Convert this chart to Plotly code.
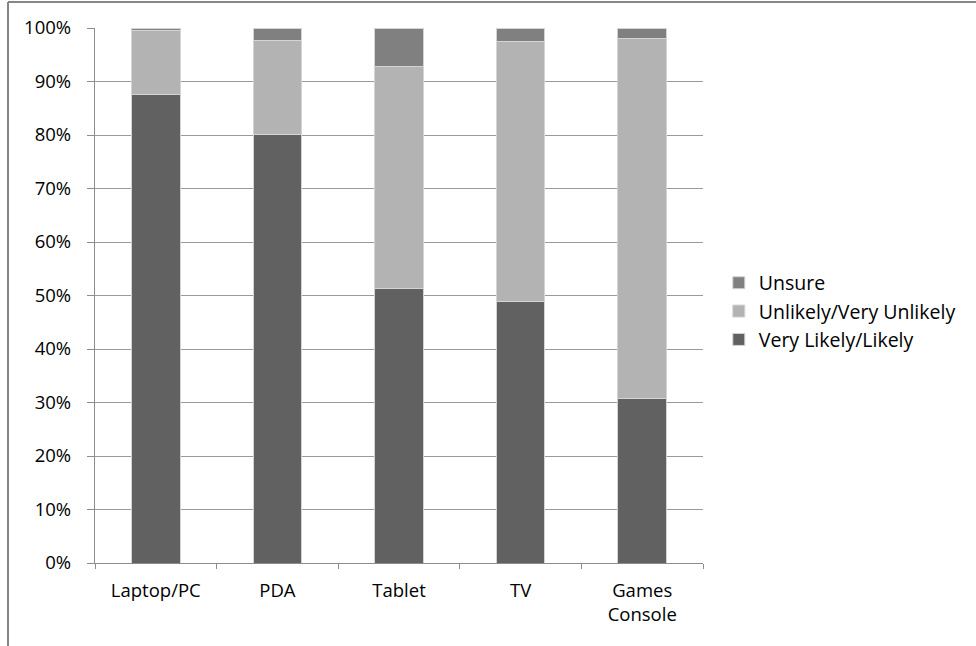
import plotly.graph_objects as go

# Device categories and stacked response shares (percent)
categories = ["Laptop/PC", "PDA", "Tablet", "TV", "Games<br>Console"]
very_likely = [87.5, 80.1, 51.3, 48.8, 30.8]
unlikely = [12.1, 17.5, 41.5, 48.7, 67.3]
unsure = [0.4, 2.4, 7.2, 2.5, 1.9]

series = [
    ("Very Likely/Likely", very_likely, "#616161"),
    ("Unlikely/Very Unlikely", unlikely, "#b3b3b3"),
    ("Unsure", unsure, "#808080"),
]

fig = go.Figure()
for name, vals, color in series:
    fig.add_trace(go.Bar(
        x=categories, y=vals, name=name,
        marker=dict(color=color, line=dict(color="#d4d4d4", width=1)),
        width=0.4,
    ))

font_family = "'Open Sans', Lato, sans-serif"

fig.update_layout(
    barmode="stack",
    width=976, height=646,
    margin=dict(l=95, r=273, t=28, b=83),
    paper_bgcolor="white", plot_bgcolor="white",
    font=dict(family=font_family, size=18.5, color="#000000"),
    showlegend=True,
    legend=dict(
        traceorder="reversed",
        x=1.026, xanchor="left", y=0.47, yanchor="middle",
        font=dict(family=font_family, size=19.5, color="#000000"),
        itemwidth=30, tracegroupgap=4,
        bgcolor="rgba(0,0,0,0)",
    ),
    xaxis=dict(
        showgrid=False,
        showline=True, linecolor="#8c8c8c", linewidth=1.3,
        ticks="outside", tickson="boundaries", ticklen=5, tickcolor="#8c8c8c",
        tickfont=dict(size=18.5),
        ticklabelstandoff=11,
    ),
    yaxis=dict(
        range=[0, 100],
        tickvals=list(range(0, 101, 10)),
        ticktext=[f"{v}%" for v in range(0, 101, 10)],
        showgrid=True, gridcolor="#9a9a9a", gridwidth=1.3,
        showline=True, linecolor="#8c8c8c", linewidth=1.3,
        ticks="outside", ticklen=7, tickcolor="#8c8c8c",
        tickfont=dict(size=18.5),
        ticklabelstandoff=12,
        zeroline=False,
    ),
    shapes=[
        # chart frame (top and left edges)
        dict(type="line", xref="paper", yref="paper",
             x0=(8 - 95) / 608, x1=(976 - 95) / 608,
             y0=(563 - 2) / 535, y1=(563 - 2) / 535,
             line=dict(color="#868686", width=2)),
        dict(type="line", xref="paper", yref="paper",
             x0=(8 - 95) / 608, x1=(8 - 95) / 608,
             y0=(563 - 2) / 535, y1=(563 - 646) / 535,
             line=dict(color="#868686", width=2)),
    ],
)

fig.write_html("out.html")
